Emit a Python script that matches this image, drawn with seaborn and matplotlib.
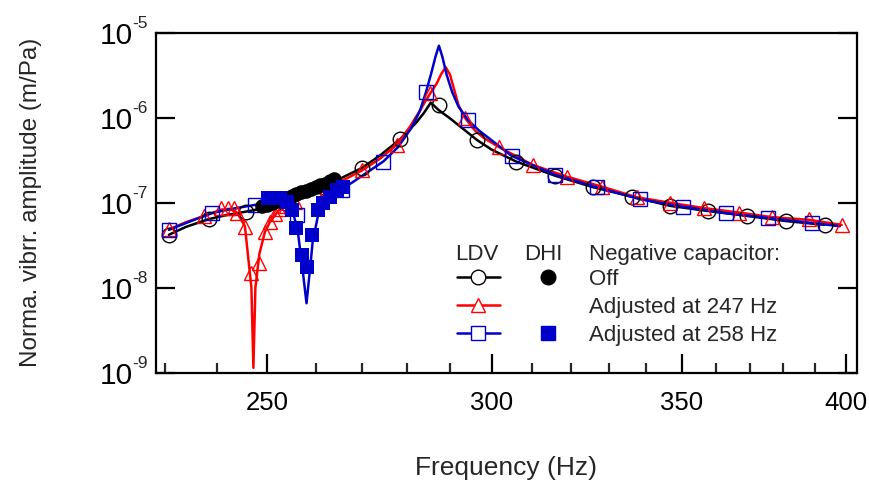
import matplotlib
matplotlib.use("Agg")
import matplotlib.pyplot as plt
from matplotlib.ticker import NullFormatter, NullLocator
import numpy as np
import pandas as pd
import seaborn as sns

# ---------------- data ----------------
# LDV curves
off_f = [230.8, 234, 238.4, 242, 245.8, 250, 253.6, 257.5, 261.5, 265.5, 269.9, 274, 278.5, 282.2,
         284, 285.5, 287.4, 290, 293, 296.4, 300, 306, 315.8, 325.8, 336.2, 346.7, 357.6, 369.2,
         380.9, 393.1]
off_a = [4.2e-8, 5.2e-8, 6.42e-8, 7.2e-8, 7.88e-8, 8.8e-8, 9.8e-8, 1.22e-7, 1.55e-7, 1.95e-7,
         2.55e-7, 3.6e-7, 5.58e-7, 8.8e-7, 1.15e-6, 1.5e-6, 1.22e-6, 9.8e-7, 7.45e-7, 5.47e-7,
         4.2e-7, 3.05e-7, 2.08e-7, 1.52e-7, 1.18e-7, 9.2e-8, 8.0e-8, 7.0e-8, 6.1e-8, 5.5e-8]

c247_f = [230.9, 234, 237.5, 240.8, 242.5, 244, 245.5, 246.0, 246.8, 247.2, 247.6, 248.4, 249.5,
          250.5, 252.4, 255, 258, 262, 266, 270, 274, 277.7, 280.7, 282.5, 284.2, 285.4, 286.9,
          288.0, 289.0, 290.0, 290.8, 292, 293.5, 296, 298, 301.8, 310.1, 318.8, 328, 337.5,
          346.8, 356.5, 366.8, 376.6, 388.2, 398.6]
c247_a = [4.9e-8, 5.9e-8, 7.0e-8, 8.3e-8, 8.5e-8, 7.6e-8, 5.3e-8, 2.8e-8, 1.0e-8, 1.15e-9, 1.0e-8,
          2.5e-8, 4.5e-8, 5.9e-8, 8.2e-8, 1.0e-7, 1.2e-7, 1.5e-7, 1.85e-7, 2.4e-7, 3.3e-7, 4.8e-7,
          7.8e-7, 1.1e-6, 1.54e-6, 1.93e-6, 2.53e-6, 3.3e-6, 3.9e-6, 3.2e-6, 2.3e-6, 1.4e-6, 1.0e-6,
          7.0e-7, 5.8e-7, 4.5e-7, 2.79e-7, 2.03e-7, 1.55e-7, 1.16e-7, 1.0e-7, 8.65e-8, 7.67e-8,
          6.78e-8, 6.3e-8, 5.5e-8]

c258_f = [230.8, 235, 239, 243, 247.6, 250.5, 252.5, 254, 255.3, 256.2, 257.3, 258.1, 258.8, 259.4,
          260.5, 262, 264, 265.6, 268, 271, 274.7, 278, 281, 283, 284.4, 285.6, 286.6, 287.4,
          288.2, 289.2, 290.5, 292, 294.3, 297, 300, 304.9, 315.8, 326.7, 338.4, 350.3, 362.8,
          375.6, 389, 398]
c258_a = [4.8e-8, 6.1e-8, 7.55e-8, 8.5e-8, 9.45e-8, 1.02e-7, 1.05e-7, 9.5e-8, 7.5e-8, 5.0e-8,
          1.6e-8, 6.6e-9, 1.6e-8, 3.5e-8, 7.0e-8, 9.8e-8, 1.22e-7, 1.45e-7, 1.75e-7, 2.25e-7,
          3.05e-7, 4.5e-7, 7.5e-7, 1.2e-6, 2.0e-6, 3.3e-6, 5.2e-6, 7.0e-6, 5.2e-6, 3.2e-6, 2.0e-6,
          1.35e-6, 9.3e-7, 7.0e-7, 5.4e-7, 3.55e-7, 2.13e-7, 1.52e-7, 1.1e-7, 9.0e-8, 7.55e-8,
          6.6e-8, 5.8e-8, 5.3e-8]

# LDV markers
off_mf = [230.8, 238.4, 245.8, 253.6, 261.5, 269.9, 278.5, 287.4, 296.4, 306.0, 315.8, 325.8,
          336.2, 346.7, 357.6, 369.2, 380.9, 393.1]
off_ma = [4.2e-8, 6.42e-8, 7.88e-8, 9.8e-8, 1.55e-7, 2.55e-7, 5.58e-7, 1.41e-6, 5.47e-7, 3.05e-7,
          2.08e-7, 1.52e-7, 1.18e-7, 9.2e-8, 8.0e-8, 7.0e-8, 6.1e-8, 5.5e-8]

c247_mf = [230.9, 237.5, 240.8, 242.1, 243.4, 244.0, 245.5, 246.8, 248.4, 249.5, 250.5, 251.6,
           252.4, 253.8, 255.6, 262.5, 270.1, 277.7, 285.4, 293.5, 301.8, 310.1, 318.8, 328.0,
           337.5, 346.8, 356.5, 366.8, 376.6, 388.2, 398.6]
c247_ma = [4.9e-8, 7.0e-8, 8.7e-8, 8.7e-8, 8.7e-8, 7.55e-8, 5.26e-8, 1.49e-8, 1.95e-8, 4.5e-8,
           5.9e-8, 7.4e-8, 8.5e-8, 9.2e-8, 1.02e-7, 1.5e-7, 2.43e-7, 4.78e-7, 1.93e-6, 9.84e-7,
           4.5e-7, 2.79e-7, 2.03e-7, 1.55e-7, 1.16e-7, 1.0e-7, 8.65e-8, 7.67e-8, 6.78e-8, 6.42e-8,
           5.5e-8]

c258_mf = [230.9, 239.0, 247.6, 256.1, 265.6, 274.7, 284.4, 294.3, 304.9, 315.8, 326.7, 338.4,
           350.3, 362.8, 375.6, 389.0]
c258_ma = [4.8e-8, 7.55e-8, 9.45e-8, 7.2e-8, 1.42e-7, 3.05e-7, 2.02e-6, 9.3e-7, 3.55e-7, 2.13e-7,
           1.52e-7, 1.1e-7, 9.0e-8, 7.55e-8, 6.6e-8, 5.8e-8]

# DHI points
dhi_off_f = [249, 250, 251, 252, 253, 254, 255, 256, 257, 258, 259, 260, 261, 262, 263, 264]
dhi_off_a = [9.2e-8, 9.5e-8, 1.0e-7, 1.05e-7, 1.1e-7, 1.15e-7, 1.2e-7, 1.26e-7, 1.32e-7, 1.38e-7,
             1.45e-7, 1.52e-7, 1.6e-7, 1.68e-7, 1.78e-7, 1.9e-7]
dhi_258_f = [250.2, 251.4, 252.6, 254.0, 255.0, 256.0, 257.1, 258.1, 259.2, 260.6, 261.6, 263.0,
             264.6, 265.9]
dhi_258_a = [1.13e-7, 1.13e-7, 1.13e-7, 1.03e-7, 8.26e-8, 5.04e-8, 2.45e-8, 1.78e-8, 4.2e-8,
             8.26e-8, 9.9e-8, 1.18e-7, 1.42e-7, 1.54e-7]

x_major = [250, 300, 350, 400]
x_minor = [230, 240, 260, 270, 280, 290, 310, 320, 330, 340, 360, 370, 380, 390]
y_exps = [-9, -8, -7, -6, -5]

legend_rows = ["Off", "Adjusted at 247 Hz", "Adjusted at 258 Hz"]

# ---------------- style ----------------
sns.set_theme(style="ticks")
plt.rcParams["font.family"] = ["Liberation Sans", "DejaVu Sans"]

BLACK = "#000000"
RED = "#FF0000"
BLUE = "#0000CC"

fig = plt.figure(figsize=(8.7, 4.82), dpi=100)
ax = fig.add_axes([156 / 870, 1 - 373 / 482, 701 / 870, 340.5 / 482])

ax.set_xscale("log")
ax.set_yscale("log")

lw = 1.8
curves = [(off_f, off_a, BLACK, 3), (c247_f, c247_a, RED, 4), (c258_f, c258_a, BLUE, 5)]
for f, a, c, z in curves:
    sns.lineplot(x=f, y=a, ax=ax, color=c, lw=lw, sort=False, estimator=None, zorder=z)

markers = [(off_mf, off_ma, BLACK, "o", 10.5), (c247_mf, c247_ma, RED, "^", 10),
           (c258_mf, c258_ma, BLUE, "s", 9.5)]
for f, a, c, m, ms in markers:
    sns.lineplot(x=f, y=a, ax=ax, linestyle="", marker=m, markersize=ms,
                 markerfacecolor="none", markeredgecolor=c, markeredgewidth=1.0,
                 sort=False, estimator=None, zorder=6)

sns.lineplot(x=dhi_off_f, y=dhi_off_a, ax=ax, linestyle="", marker="o", markersize=10.5,
             markerfacecolor=BLACK, markeredgecolor=BLACK, markeredgewidth=0,
             sort=False, estimator=None, zorder=7)
sns.lineplot(x=dhi_258_f, y=dhi_258_a, ax=ax, linestyle="", marker="s", markersize=9.5,
             markerfacecolor=BLUE, markeredgecolor=BLUE, markeredgewidth=0,
             sort=False, estimator=None, zorder=8)

# ---------------- axes ----------------
ax.set_xlim(228.4, 403.6)
ax.set_ylim(1e-9, 1e-5)
ax.set_xticks(x_major, labels=[str(v) for v in x_major])
ax.set_xticks(x_minor, minor=True)
ax.xaxis.set_minor_formatter(NullFormatter())
ax.set_yticks([10.0 ** e for e in y_exps], labels=["10"] * len(y_exps))
ax.yaxis.set_minor_locator(NullLocator())

# exponents drawn as raised small text next to each "10"
for e in y_exps:
    ax.annotate("%d" % e, xy=(0, 10.0 ** e), xycoords=ax.get_yaxis_transform(),
                xytext=(-16.8, 6.5), textcoords="offset points", ha="left", va="center",
                fontsize=12.5, annotation_clip=False)

for s in ax.spines.values():
    s.set_linewidth(1.6)
    s.set_color("black")

ax.tick_params(axis="x", which="major", direction="in", length=14, width=1.6,
               labelsize=18.5, pad=13, top=False, colors="black")
ax.tick_params(axis="x", which="minor", direction="in", length=7, width=1.6, top=False)
ax.tick_params(axis="y", which="major", direction="in", length=14, width=1.6,
               labelsize=21.5, pad=17, left=True, right=True, colors="black")

ax.set_xlabel("Frequency (Hz)", fontsize=19)
ax.set_ylabel("Norma. vibrr. amplitude (m/Pa)", fontsize=17.5)
ax.xaxis.set_label_coords(0.5, -0.244)
ax.yaxis.set_label_coords(-0.1626, 0.5)
ax.grid(False)

# ---------------- legend (table style) ----------------
T = ax.transAxes
fs = 16
hdr_base = 0.3319
row_base = [0.2584, 0.1771, 0.0949]
row_y = [0.282, 0.1997, 0.1175]
ax.text(0.458, hdr_base, "LDV", ha="center", va="baseline", transform=T, fontsize=fs)
ax.text(0.552, hdr_base, "DHI", ha="center", va="baseline", transform=T, fontsize=fs)
ax.text(0.6177, hdr_base, "Negative capacitor:", ha="left", va="baseline", transform=T,
        fontsize=fs)
leg_style = [(BLACK, "o", 10.5), (RED, "^", 10), (BLUE, "s", 9.5)]
for (c, m, ms), ry, rb, lab in zip(leg_style, row_y, row_base, legend_rows):
    ax.plot([0.4294, 0.4907], [ry, ry], color=c, lw=lw, transform=T, clip_on=False)
    ax.plot([0.4593], [ry], marker=m, ms=ms, mfc="white", mec=c, mew=1.0, ls="",
            transform=T, clip_on=False)
    ax.text(0.6177, rb, lab, ha="left", va="baseline", transform=T, fontsize=fs)
ax.plot([0.5592], [row_y[0]], marker="o", ms=10.5, mfc=BLACK, mec=BLACK, ls="", transform=T)
ax.plot([0.5592], [row_y[2]], marker="s", ms=9.5, mfc=BLUE, mec=BLUE, ls="", transform=T)

fig.savefig("out.png", dpi=100)
